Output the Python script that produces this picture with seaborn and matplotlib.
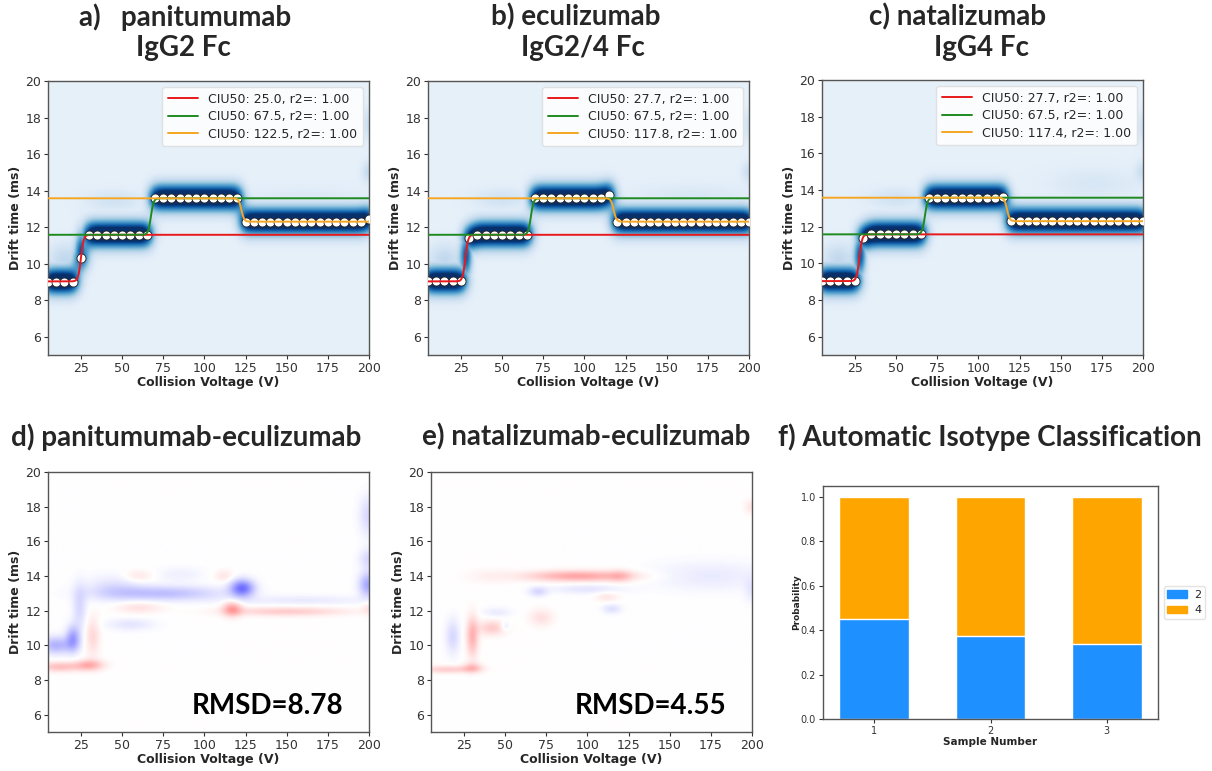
import numpy as np
import pandas as pd
import matplotlib
matplotlib.use("Agg")
import matplotlib.pyplot as plt
import seaborn as sns
from matplotlib.patches import Patch

# ------------------------------------------------------------------ data
voltages = [5, 10, 15, 20, 25, 30, 35, 40, 45, 50, 55, 60, 65, 70, 75, 80, 85, 90, 95, 100,
            105, 110, 115, 120, 125, 130, 135, 140, 145, 150, 155, 160, 165, 170, 175, 180,
            185, 190, 195, 200]

# centroid drift time (ms) of the dominant feature at each voltage
a_centroid = [9.02, 9.02, 9.02, 9.02, 10.3, 11.58, 11.58, 11.58, 11.58, 11.58, 11.58, 11.58,
              11.58, 13.58, 13.58, 13.58, 13.58, 13.58, 13.58, 13.58, 13.58, 13.58, 13.58,
              13.58, 12.3, 12.3, 12.3, 12.3, 12.3, 12.3, 12.3, 12.3, 12.3, 12.3, 12.3, 12.3,
              12.3, 12.3, 12.3, 12.42]
b_centroid = [9.05, 9.05, 9.05, 9.05, 9.05, 11.38, 11.58, 11.58, 11.58, 11.58, 11.58, 11.58,
              11.58, 13.58, 13.58, 13.58, 13.58, 13.58, 13.58, 13.58, 13.58, 13.58, 13.75,
              12.3, 12.3, 12.3, 12.3, 12.3, 12.3, 12.3, 12.3, 12.3, 12.3, 12.3, 12.3, 12.3,
              12.3, 12.3, 12.3, 12.3]
c_centroid = [9.05, 9.05, 9.05, 9.05, 9.05, 11.38, 11.58, 11.58, 11.58, 11.58, 11.58, 11.58,
              11.58, 13.58, 13.58, 13.58, 13.58, 13.58, 13.58, 13.58, 13.58, 13.58, 13.6,
              12.3, 12.3, 12.3, 12.3, 12.3, 12.3, 12.3, 12.3, 12.3, 12.3, 12.3, 12.3, 12.3,
              12.3, 12.3, 12.3, 12.3]

# CIU50 fits: transition voltage, low and high drift-time levels
ciu50_a = [25.0, 67.5, 122.5]
ciu50_b = [27.7, 67.5, 117.8]
ciu50_c = [27.7, 67.5, 117.4]
fit_low = [9.03, 11.58, 13.58]
fit_high = [11.58, 13.58, 12.3]
fit_r2 = [1.00, 1.00, 1.00]
fit_colors = ["#e8191c", "#1f8a1f", "#f5a623"]

# weaker secondary features of the fingerprints: voltage, drift, intensity, width V, width ms
a_minor_v = [25, 15, 45, 160, 200, 200]
a_minor_dt = [10.6, 10.2, 13.4, 13.5, 15.0, 17.6]
a_minor_amp = [0.8, 0.2, 0.12, 0.06, 0.18, 0.15]
a_minor_sv = [2.5, 7, 12, 30, 3, 3]
a_minor_sdt = [0.8, 0.6, 0.4, 0.5, 0.4, 0.6]

b_minor_v = [28, 15, 50, 165, 200, 200]
b_minor_dt = [10.4, 10.2, 13.5, 13.6, 15.0, 17.5]
b_minor_amp = [0.8, 0.2, 0.12, 0.08, 0.15, 0.12]
b_minor_sv = [2.5, 7, 12, 25, 3, 3]
b_minor_sdt = [0.8, 0.6, 0.4, 0.5, 0.4, 0.6]

c_minor_v = [28, 15, 50, 170, 200, 200]
c_minor_dt = [10.4, 10.2, 13.5, 14.3, 15.0, 17.4]
c_minor_amp = [0.8, 0.2, 0.12, 0.08, 0.15, 0.12]
c_minor_sv = [2.5, 7, 12, 20, 3, 3]
c_minor_sdt = [0.8, 0.6, 0.4, 0.6, 0.4, 0.6]

# difference maps: voltage, drift, signed intensity, width V, width ms
d_v = [12, 30, 32, 60, 60, 112, 117, 150, 200, 10, 20, 24, 75, 45, 123, 55, 160, 200, 200, 200, 85]
d_dt = [8.75, 8.85, 10.5, 12.2, 14.0, 14.0, 12.1, 11.95, 12.2, 10.0, 10.4, 12.2, 13.0, 13.3,
        13.3, 11.2, 12.6, 13.5, 15.0, 17.5, 14.1]
d_amp = [0.25, 0.3, 0.15, 0.12, 0.1, 0.1, 0.35, 0.2, 0.1, -0.3, -0.35, -0.15, -0.25, -0.12,
         -0.55, -0.1, -0.08, -0.35, -0.15, -0.15, -0.06]
d_sv = [9, 6, 3, 10, 6, 4, 4, 25, 3, 7, 3, 3, 25, 12, 5, 10, 30, 4, 4, 4, 10]
d_sdt = [0.2, 0.22, 0.8, 0.25, 0.25, 0.25, 0.3, 0.18, 0.3, 0.35, 0.5, 0.9, 0.3, 0.5, 0.35,
         0.25, 0.2, 0.5, 0.4, 0.8, 0.3]

e_v = [15, 30, 30, 42, 72, 95, 120, 112, 200, 40, 18, 45, 50, 70, 100, 115, 175, 200]
e_dt = [8.6, 8.7, 10.5, 11.0, 11.6, 14.0, 14.0, 12.8, 18.0, 14.0, 10.5, 11.9, 11.1, 13.1,
        13.25, 12.1, 14.0, 13.2]
e_amp = [0.2, 0.22, 0.3, 0.2, 0.12, 0.35, 0.15, 0.1, 0.1, 0.05, -0.15, -0.08, -0.12, -0.15,
         -0.1, -0.12, -0.08, -0.08]
e_sv = [12, 4, 2.5, 6, 5, 22, 5, 5, 3, 10, 3, 6, 2, 4, 15, 4, 25, 3]
e_sdt = [0.15, 0.2, 0.8, 0.3, 0.35, 0.22, 0.25, 0.2, 0.3, 0.3, 0.7, 0.2, 0.2, 0.2, 0.2, 0.2,
         0.6, 0.5]

rmsd_values = [8.78, 4.55]

# isotype classification
samples = ["1", "2", "3"]
prob_igg2 = [0.45, 0.375, 0.34]
prob_igg4 = [0.55, 0.625, 0.66]
class_colors = ["#1e90ff", "#ffa500"]

titles_top = ["a)   panitumumab", "b) eculizumab", "c) natalizumab"]
titles_sub = ["IgG2 Fc", "IgG2/4 Fc", "IgG4 Fc"]
titles_bottom = ["d) panitumumab-eculizumab", "e) natalizumab-eculizumab",
                 "f) Automatic Isotype Classification"]

# ------------------------------------------------------------------ style
sns.set_theme(style="white")
plt.rcParams["font.family"] = ["DejaVu Sans"]
plt.rcParams["axes.edgecolor"] = "#555555"
plt.rcParams["axes.linewidth"] = 1.0
plt.rcParams["xtick.color"] = "#333333"
plt.rcParams["ytick.color"] = "#333333"
plt.rcParams["xtick.bottom"] = True
plt.rcParams["ytick.left"] = True

W, H = 1212, 771
fig = plt.figure(figsize=(W / 100, H / 100), dpi=100)
fig.patch.set_facecolor("white")


def add_ax(l, t, r, b):
    return fig.add_axes([l / W, 1 - b / H, (r - l) / W, (b - t) / H])


xg = np.arange(2.0, 203.0, 0.5)
yg = np.arange(4.0, 21.0, 0.04)
X, Y = np.meshgrid(xg, yg)


def blobs(vs, dts, amps, svs, sdts):
    Z = np.zeros_like(X)
    for v, d, a, sv, sd in zip(vs, dts, amps, svs, sdts):
        Z += a * np.exp(-0.5 * ((X - v) / sv) ** 2 - 0.5 * ((Y - d) / sd) ** 2)
    return Z


def style_ciu(ax):
    ax.set_xlim(5, 200)
    ax.set_ylim(5, 20)
    ax.set_xticks([25, 50, 75, 100, 125, 150, 175, 200])
    ax.set_yticks([6, 8, 10, 12, 14, 16, 18, 20])
    ax.tick_params(labelsize=9, length=3, width=0.8, pad=2)
    ax.set_xlabel("Collision Voltage (V)", fontsize=9, fontweight="bold", labelpad=1)
    ax.set_ylabel("Drift time (ms)", fontsize=9, fontweight="bold", labelpad=2)
    for s in ax.spines.values():
        s.set_visible(True)


ciu_boxes = [(48, 81, 369, 355), (428, 81, 749, 355), (822, 80, 1143, 355)]
centroids = [a_centroid, b_centroid, c_centroid]
ciu50s = [ciu50_a, ciu50_b, ciu50_c]
minors = [(a_minor_v, a_minor_dt, a_minor_amp, a_minor_sv, a_minor_sdt),
          (b_minor_v, b_minor_dt, b_minor_amp, b_minor_sv, b_minor_sdt),
          (c_minor_v, c_minor_dt, c_minor_amp, c_minor_sv, c_minor_sdt)]
title_x = [185, 576, 958]
sub_x = [183, 583, 981]
title_font = ["Lato", "DejaVu Sans"]

xfit = np.arange(5, 200.5, 0.5)
for i in range(3):
    ax = add_ax(*ciu_boxes[i])
    cen = centroids[i]
    Z = blobs(voltages, cen, [1.0] * len(cen), [3.5] * len(cen), [0.5] * len(cen))
    Z = np.clip(Z / 1.3, 0, 1)
    Z = np.maximum(Z, np.clip(blobs(*minors[i]), 0, 1))
    ax.imshow(Z, extent=[xg[0], xg[-1], yg[0], yg[-1]], origin="lower", aspect="auto",
              cmap="Blues", vmin=-0.09, vmax=1.0, interpolation="bilinear", zorder=1)
    sns.scatterplot(x=voltages, y=cen, ax=ax, color="white", edgecolor="#222222", s=42,
                    linewidth=0.6, zorder=3, legend=False)
    for k in range(3):
        c = ciu50s[i][k]
        yfit = fit_low[k] + (fit_high[k] - fit_low[k]) / (1 + np.exp(-1.2 * (xfit - c)))
        ax.plot(xfit, yfit, color=fit_colors[k], lw=1.4, zorder=4,
                label=f"CIU50: {c:.1f}, r2=: {fit_r2[k]:.2f}")
    style_ciu(ax)
    ax.legend(loc="upper right", fontsize=9, framealpha=0.85, handlelength=2.4,
              borderpad=0.45, labelspacing=0.35, edgecolor="#dddddd")
    fig.text(title_x[i] / W, 1 - 17 / H, titles_top[i], ha="center", va="center",
             fontsize=20, fontweight="bold", family=title_font)
    fig.text(sub_x[i] / W, 1 - 48 / H, titles_sub[i], ha="center", va="center",
             fontsize=20, fontweight="bold", family=title_font)

diff_boxes = [(48, 472, 369, 732), (431, 472, 752, 732)]
diffs = [(d_v, d_dt, d_amp, d_sv, d_sdt), (e_v, e_dt, e_amp, e_sv, e_sdt)]
for i in range(2):
    ax = add_ax(*diff_boxes[i])
    Z = blobs(*diffs[i])
    ax.imshow(Z, extent=[xg[0], xg[-1], yg[0], yg[-1]], origin="lower", aspect="auto",
              cmap="bwr", vmin=-1, vmax=1, interpolation="bilinear", zorder=1)
    style_ciu(ax)
    ax.text(0.92, 0.1, f"RMSD={rmsd_values[i]:.2f}", transform=ax.transAxes, ha="right",
            va="center", fontsize=20, fontweight="bold", family=title_font, color="black")

for i, cx in enumerate([186, 586, 990]):
    fig.text(cx / W, 1 - 437 / H, titles_bottom[i], ha="center", va="center", fontsize=20,
             fontweight="bold", family=title_font)

# panel f
axf = add_ax(823, 486, 1158, 719)
df = pd.DataFrame({"sample": samples, "p2": prob_igg2, "p4": prob_igg4})
df["total"] = df["p2"] + df["p4"]
sns.barplot(data=df, x="sample", y="total", color=class_colors[1], width=0.6, ax=axf,
            saturation=1)
sns.barplot(data=df, x="sample", y="p2", color=class_colors[0], width=0.6, ax=axf,
            saturation=1)
axf.set_xlim(-0.44, 2.44)
axf.set_ylim(0, 1.05)
axf.set_yticks([0, 0.2, 0.4, 0.6, 0.8, 1.0])
axf.set_yticklabels(["0.0", "0.2", "0.4", "0.6", "0.8", "1.0"])
axf.tick_params(labelsize=7, length=3, width=0.8, pad=2)
axf.set_xlabel("Sample Number", fontsize=7.5, fontweight="bold", labelpad=1)
axf.set_ylabel("Probability", fontsize=6.5, fontweight="bold", labelpad=0)
for s in axf.spines.values():
    s.set_visible(True)
handles = [Patch(color=class_colors[0], label="2"), Patch(color=class_colors[1], label="4")]
axf.legend(handles=handles, loc="center left", bbox_to_anchor=(1.01, 0.5), fontsize=8,
           frameon=True, edgecolor="#dddddd", handlelength=1.8, handletextpad=0.6,
           borderpad=0.35, borderaxespad=0.2)

fig.savefig("out.png", dpi=100)
